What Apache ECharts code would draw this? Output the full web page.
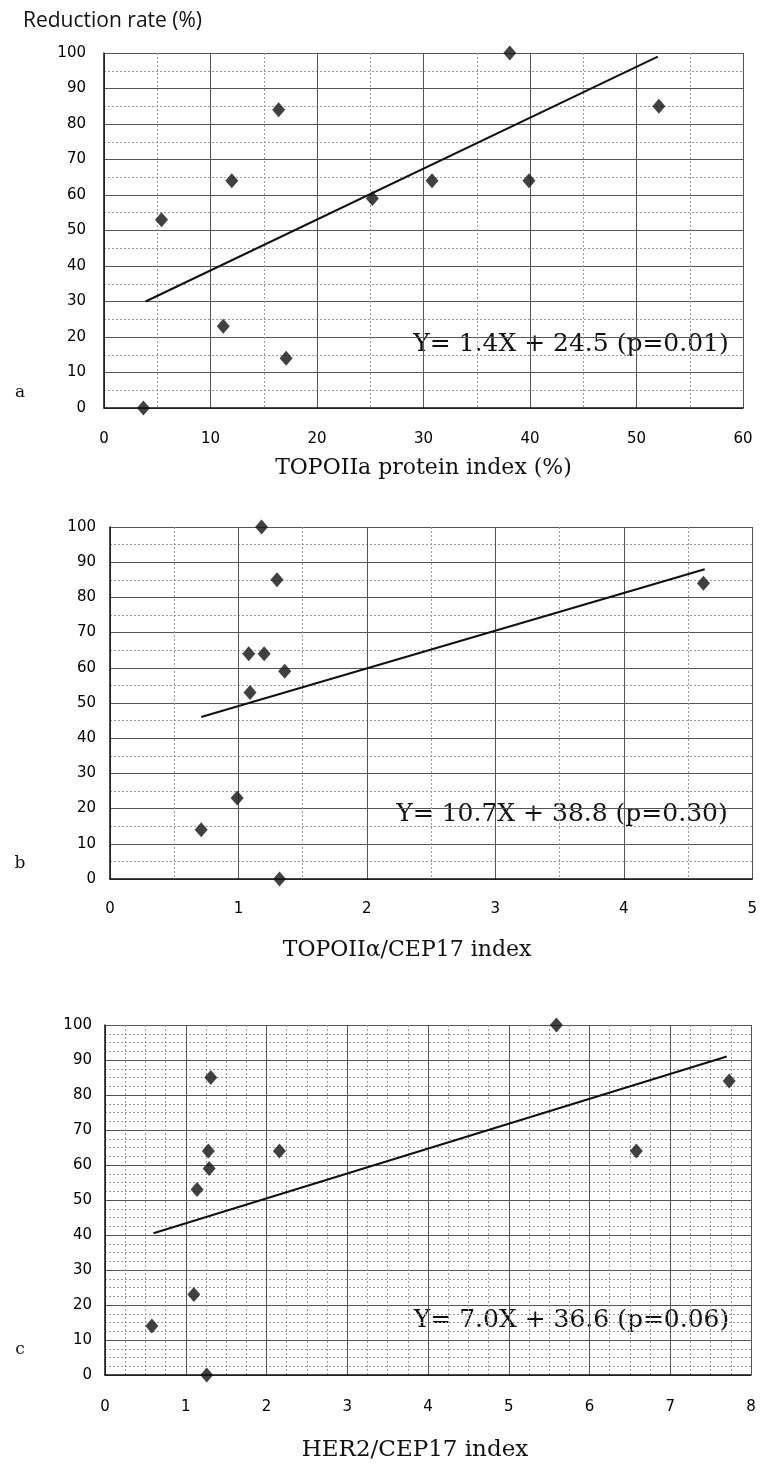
<!DOCTYPE html>
<html>
<head>
<meta charset="utf-8">
<script src="https://cdn.jsdelivr.net/npm/echarts@6/dist/echarts.min.js"></script>
<style>
  html, body { margin: 0; padding: 0; background: #fff; }
  #chart { width: 760px; height: 1466px; }
</style>
</head>
<body>
<div id="chart"></div>
<script>
// panel a: TOPOIIa protein index vs reduction rate
const topoProtein = [3.7, 5.4, 11.2, 12.0, 16.4, 17.1, 25.2, 30.8, 38.1, 39.9, 52.1];
const reductionA = [0, 53, 23, 64, 84, 14, 59, 64, 100, 64, 85];
const fitA = [[3.9, 30], [52, 99]];

// panel b: TOPOIIa/CEP17 index
const topoRatio = [0.71, 0.99, 1.08, 1.09, 1.18, 1.20, 1.30, 1.32, 1.36, 4.62];
const reductionB = [14, 23, 64, 53, 100, 64, 85, 0, 59, 84];
const fitB = [[0.71, 46], [4.63, 88]];

// panel c: HER2/CEP17 index
const her2Ratio = [0.58, 1.10, 1.14, 1.26, 1.28, 1.29, 1.31, 2.16, 5.59, 6.58, 7.73];
const reductionC = [14, 23, 53, 0, 64, 59, 85, 64, 100, 64, 84];
const fitC = [[0.6, 40.5], [7.7, 91]];

const equations = ["Y= 1.4X + 24.5 (p=0.01)", "Y= 10.7X + 38.8 (p=0.30)", "Y= 7.0X + 36.6 (p=0.06)"];
const xTitles = ["TOPOIIa protein index (%)", "TOPOIIα/CEP17 index", "HER2/CEP17 index"];
const panelTags = ["a", "b", "c"];

const SERIF = "'DejaVu Serif', 'Liberation Serif', serif";
const SANS = "'DejaVu Sans', sans-serif";

function zip(xs, ys) {
  return xs.map((x, i) => [x, ys[i]]);
}

function xAxisFor(idx, max, interval, minorSplit, labelMargin, nameGap, shift, nameSize) {
  return {
    type: "value", gridIndex: idx, min: 0, max: max, interval: interval,
    name: xTitles[idx], nameLocation: "middle", nameGap: nameGap,
    nameTextStyle: { fontFamily: SERIF, fontSize: nameSize, color: "#111", padding: [0, shift, 0, 0] },
    axisLine: { show: true, lineStyle: { color: "#111", width: 1.5 } },
    axisTick: { show: false },
    axisLabel: { margin: labelMargin, fontFamily: SANS, fontSize: 15, color: "#000" },
    splitLine: { show: true, lineStyle: { color: "#555", width: 1 } },
    minorTick: { show: false, splitNumber: minorSplit },
    minorSplitLine: { show: true, lineStyle: { color: "#9a9a9a", width: 1, type: [2, 2] } },
  };
}

function yAxisFor(idx, minorSplit, labelMargin) {
  return {
    type: "value", gridIndex: idx, min: 0, max: 100, interval: 10,
    axisLine: { show: true, lineStyle: { color: "#111", width: 1.5 } },
    axisTick: { show: false },
    axisLabel: { margin: labelMargin, fontFamily: SANS, fontSize: 15, color: "#000" },
    splitLine: { show: true, lineStyle: { color: "#555", width: 1 } },
    minorTick: { show: false, splitNumber: minorSplit },
    minorSplitLine: { show: true, lineStyle: { color: "#9a9a9a", width: 1, type: [2, 2] } },
  };
}

function points(idx, data) {
  return {
    type: "scatter", xAxisIndex: idx, yAxisIndex: idx, data: data,
    symbol: "diamond", symbolSize: [13, 15],
    itemStyle: { color: "#111" }, z: 5,
  };
}

function fitLine(idx, data) {
  return {
    type: "line", xAxisIndex: idx, yAxisIndex: idx, data: data,
    showSymbol: false, silent: true,
    lineStyle: { color: "#111", width: 2 }, z: 4,
  };
}

// white box holding the regression equation
function eqBox(idx, x, y, w, h) {
  return {
    type: "group", z: 3,
    children: [
      { type: "rect", shape: { x: x, y: y, width: w, height: h }, style: { fill: "#fff" } },
      {
        type: "text", x: x + w / 2, y: y + h / 2,
        style: { text: equations[idx], font: "25px " + SERIF, fill: "#111", align: "center", verticalAlign: "middle" },
      },
    ],
  };
}

function tag(idx, y) {
  return { type: "text", x: 20, y: y, style: { text: panelTags[idx], font: "17px " + SERIF, fill: "#111", align: "center", verticalAlign: "middle" } };
}

const chart = echarts.init(document.getElementById("chart"));

chart.setOption({
  animation: false,
  backgroundColor: "#fff",
  grid: [
    { left: 104, right: 17, top: 53, height: 355 },
    { left: 110, right: 0, top: 527, height: 352 },
    { left: 105, right: 9, top: 1025, height: 350 },
  ],
  xAxis: [
    xAxisFor(0, 60, 10, 2, 24, 49, 0, 22),
    xAxisFor(1, 5, 1, 2, 23, 60, 48, 22),
    xAxisFor(2, 8, 1, 4, 25, 64, 26, 23),
  ],
  yAxis: [
    yAxisFor(0, 2, 18),
    yAxisFor(1, 2, 14),
    yAxisFor(2, 4, 13),
  ],
  series: [
    points(0, zip(topoProtein, reductionA)),
    fitLine(0, fitA),
    points(1, zip(topoRatio, reductionB)),
    fitLine(1, fitB),
    points(2, zip(her2Ratio, reductionC)),
    fitLine(2, fitC),
  ],
  graphic: [
    { type: "text", x: 23, y: 21, style: { text: "Reduction rate (%)", font: "21px 'Open Sans', sans-serif", fill: "#111", verticalAlign: "middle" } },
    eqBox(0, 400, 318, 342, 52),
    eqBox(1, 366, 789, 392, 50),
    eqBox(2, 395, 1296, 353, 48),
    tag(0, 393),
    tag(1, 864),
    tag(2, 1350),
  ],
});
</script>
</body>
</html>
